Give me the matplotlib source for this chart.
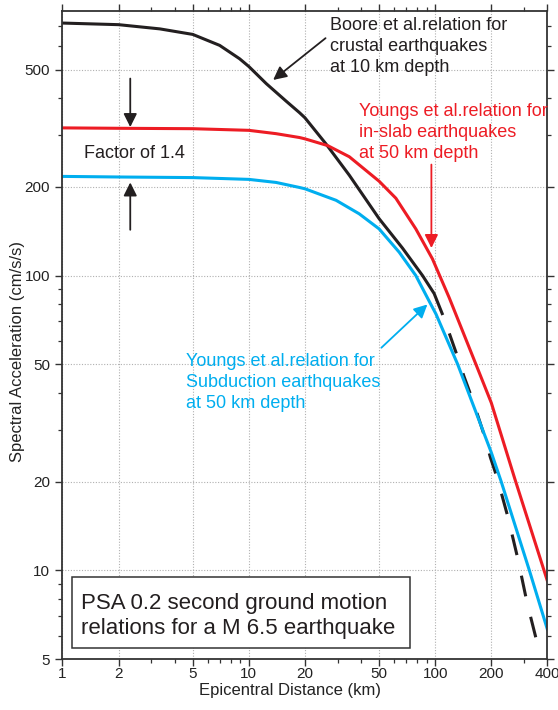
import matplotlib
matplotlib.use('Agg')
import matplotlib.pyplot as plt
from matplotlib.patches import Rectangle
from matplotlib.ticker import FixedLocator, LogLocator, NullFormatter, FixedFormatter

plt.rcParams['font.family'] = ['Liberation Sans', 'DejaVu Sans']

# Boore et al. (crustal, 10 km) - solid part and dashed extrapolation
dist_boore = [1, 2, 3.33, 5, 6.97, 8.92, 10, 12.4, 15.9, 18.7, 20, 25.9, 34.6, 50,
              66.7, 85.5, 98.7, 109]
psa_boore = [719, 710, 687, 658, 604, 544, 512, 448, 390, 357, 343, 280, 219, 156,
             124, 100, 86.9, 74.3]
dist_boore_ext = [109, 120.5, 131, 142.5, 156, 169.5, 184, 198, 215, 246, 278, 311, 352]
psa_boore_ext = [74.3, 62.3, 53.6, 45.6, 39, 33.4, 28.5, 24.1, 20.6, 15.1, 10.9, 7.77, 5.69]

# Youngs et al. in-slab, 50 km
dist_red = [1, 2, 5, 10, 14, 18.7, 20, 26.5, 34.6, 50, 61.5, 78.7, 96.6, 119, 166,
            200, 267, 400]
psa_red = [317, 316, 315, 311, 303, 294, 291, 276, 253, 209, 183, 144, 114, 84, 49.7,
           37, 20.5, 9.2]

# Youngs et al. subduction, 50 km
dist_blue = [1, 2, 5, 10, 14, 18.7, 20, 29.4, 39.1, 50, 64.1, 78.7, 92.7, 101, 132,
             200, 226, 320, 400]
psa_blue = [217, 216, 215, 212, 207, 199, 197, 180, 162, 144, 120, 100, 82, 74, 50,
            25.1, 20, 10, 6.3]

x_ticks = [1, 2, 5, 10, 20, 50, 100, 200, 400]
y_ticks = [5, 10, 20, 50, 100, 200, 500]

BLACK = '#231F20'
RED = '#ED1C24'
BLUE = '#00AEEF'
AXC = '#333333'

fig = plt.figure(figsize=(5.58, 7.10), dpi=100)
ax = fig.add_axes([0.112, 0.0718, 0.869, 0.9127])

ax.plot(dist_boore, psa_boore, color=BLACK, lw=2.2, solid_joinstyle='round')
ax.plot(dist_boore_ext, psa_boore_ext, color=BLACK, lw=2.2,
        linestyle=(6.9, (6.9, 6.9)))
ax.plot(dist_red, psa_red, color=RED, lw=2.2, solid_joinstyle='round')
ax.plot(dist_blue, psa_blue, color=BLUE, lw=2.2, solid_joinstyle='round')

ax.set_xscale('log')
ax.set_yscale('log')
ax.set_xlim(1, 400)
ax.set_ylim(5, 790)

ax.xaxis.set_major_locator(FixedLocator(x_ticks))
ax.xaxis.set_major_formatter(FixedFormatter([str(v) for v in x_ticks]))
ax.xaxis.set_minor_locator(LogLocator(subs=range(2, 10)))
ax.xaxis.set_minor_formatter(NullFormatter())
ax.yaxis.set_major_locator(FixedLocator(y_ticks))
ax.yaxis.set_major_formatter(FixedFormatter([str(v) for v in y_ticks]))
ax.yaxis.set_minor_locator(LogLocator(subs=range(2, 10)))
ax.yaxis.set_minor_formatter(NullFormatter())

ax.tick_params(which='both', direction='out', top=True, right=True,
               color=AXC, labelcolor='#222222', labelsize=11)
ax.tick_params(which='major', length=5, width=1)
ax.tick_params(which='minor', length=3, width=0.9)
ax.tick_params(axis='x', pad=1)
ax.tick_params(axis='y', pad=4)
for s in ax.spines.values():
    s.set_color(AXC)
    s.set_linewidth(1.3)

ax.grid(True, which='major', color='#b0b0b0', linestyle=(0, (1, 1.5)), lw=0.8)
ax.set_axisbelow(True)

ax.set_xlabel('Epicentral Distance (km)', fontsize=12, color='#222222')
ax.set_ylabel('Spectral Acceleration (cm/s/s)', fontsize=12, color='#222222')
ax.xaxis.set_label_coords(0.469, -0.037)
ax.yaxis.set_label_coords(-0.077, 0.475)

# annotations
arrow_kw = dict(arrowstyle='-|>', mutation_scale=20, lw=1.3, shrinkA=0, shrinkB=0)

ax.text(27.2, 599, 'Boore et al.relation for\ncrustal earthquakes\nat 10 km depth',
        color=BLACK, fontsize=13, ha='left', va='center', linespacing=1.3)
ax.annotate('', xy=(13.5, 461), xytext=(25.8, 639),
            arrowprops=dict(color=BLACK, **arrow_kw))

ax.text(38.9, 305, 'Youngs et al.relation for\nin-slab earthquakes\nat 50 km depth',
        color=RED, fontsize=13, ha='left', va='center', linespacing=1.3)
ax.annotate('', xy=(95.4, 124), xytext=(95.4, 238),
            arrowprops=dict(color=RED, **arrow_kw))

ax.text(4.6, 43.5, 'Youngs et al.relation for\nSubduction earthquakes\nat 50 km depth',
        color=BLUE, fontsize=13, ha='left', va='center', linespacing=1.3)
ax.annotate('', xy=(90.8, 79.8), xytext=(51.4, 56.9),
            arrowprops=dict(color=BLUE, **arrow_kw))

ax.text(1.305, 259, 'Factor of 1.4', color=BLACK, fontsize=13, ha='left', va='center')
ax.annotate('', xy=(2.31, 319), xytext=(2.31, 466),
            arrowprops=dict(color=BLACK, **arrow_kw))
ax.annotate('', xy=(2.31, 207), xytext=(2.31, 143),
            arrowprops=dict(color=BLACK, **arrow_kw))

ax.add_patch(Rectangle((0.0196, 0.0165), 0.697, 0.1105, transform=ax.transAxes,
                       facecolor='white', edgecolor=AXC, lw=1.1, zorder=5))
ax.text(0.038, 0.0664, 'PSA 0.2 second ground motion\nrelations for a M 6.5 earthquake',
        transform=ax.transAxes, fontsize=16, color=BLACK, ha='left', va='center',
        linespacing=1.25, zorder=6)

fig.savefig('out.png', dpi=100)
